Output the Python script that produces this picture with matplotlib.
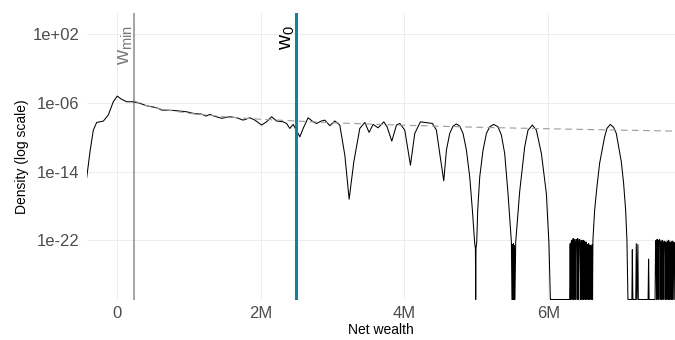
import numpy as np
import matplotlib.pyplot as plt

# wealth in millions, density as log10 (-inf where the estimate is exactly zero)
Z = -np.inf
wealth_m = [-0.417, -0.371, -0.325, -0.278, -0.186, -0.117, -0.047, 0.008, 0.069, 0.139,
            0.231, 0.324, 0.417, 0.556, 0.625, 0.786, 0.972, 1.088, 1.181, 1.240,
            1.296, 1.342, 1.458, 1.574, 1.667, 1.758, 1.851, 1.921, 2.014, 2.083,
            2.153, 2.222, 2.314, 2.361, 2.407, 2.453, 2.546, 2.592, 2.661, 2.731,
            2.778, 2.847, 2.893, 2.963, 3.032, 3.101, 3.171, 3.231, 3.296, 3.379,
            3.449, 3.508, 3.564, 3.633, 3.713, 3.758, 3.824, 3.889, 3.935, 4.004,
            4.083, 4.143, 4.222, 4.306, 4.389, 4.444, 4.490, 4.546, 4.583, 4.629,
            4.675, 4.722, 4.768, 4.814, 4.861, 4.907, 4.944, 4.976, 4.986, 4.990,
            4.994, 5.004, 5.018, 5.046, 5.092, 5.139, 5.185, 5.240, 5.300, 5.347,
            5.393, 5.439, 5.486, 5.494, 5.501, 5.508, 5.515, 5.522, 5.529, 5.535,
            5.546, 5.601, 5.671, 5.717, 5.778, 5.833, 5.903, 5.972, 6.008, 6.028,
            6.296, 6.303, 6.310, 6.317, 6.324, 6.331, 6.338, 6.345, 6.352, 6.358,
            6.365, 6.372, 6.379, 6.386, 6.393, 6.400, 6.407, 6.414, 6.421, 6.428,
            6.435, 6.442, 6.449, 6.456, 6.463, 6.469, 6.476, 6.483, 6.490, 6.497,
            6.504, 6.511, 6.518, 6.525, 6.532, 6.539, 6.546, 6.553, 6.560, 6.567,
            6.574, 6.581, 6.588, 6.595, 6.602, 6.609, 6.614, 6.619, 6.643, 6.675,
            6.712, 6.782, 6.814, 6.861, 6.907, 6.944, 7.014, 7.046, 7.074, 7.092,
            7.106, 7.161, 7.167, 7.174, 7.215, 7.222, 7.231, 7.244, 7.250, 7.386,
            7.393, 7.400, 7.483, 7.490, 7.497, 7.504, 7.511, 7.518, 7.525, 7.532,
            7.539, 7.546, 7.553, 7.560, 7.567, 7.574, 7.581, 7.588, 7.595, 7.602,
            7.609, 7.616, 7.623, 7.630, 7.637, 7.644, 7.651, 7.658, 7.665, 7.672,
            7.679, 7.686, 7.693, 7.700, 7.707, 7.714, 7.721, 7.728, 7.735, 7.742,
            7.749, 7.757]
log_density = [-14.73, -11.70, -9.17, -8.27, -8.12, -7.42, -5.86, -5.20, -5.58, -5.86,
               -5.86, -6.05, -6.33, -6.56, -6.83, -6.87, -7.03, -7.26, -7.30, -7.53,
               -7.33, -7.50, -7.79, -7.61, -7.73, -8.00, -7.73, -8.00, -8.58, -8.20,
               -7.61, -8.10, -8.20, -8.39, -8.97, -8.50, -9.95, -8.97, -7.73, -8.20,
               -8.39, -8.10, -8.00, -8.65, -8.10, -8.58, -12.08, -17.22, -12.86, -8.97,
               -8.27, -9.43, -8.50, -8.90, -8.20, -8.78, -10.45, -8.58, -8.39, -9.17,
               -13.25, -9.55, -8.20, -8.30, -8.39, -9.17, -11.89, -15.08, -11.50, -9.55,
               -8.70, -8.45, -8.70, -9.55, -11.50, -14.62, -18.50, -22.39, -22.93, Z,
               -22.93, -22.30, -18.50, -14.62, -11.50, -9.55, -8.78, -8.50, -8.78, -9.75,
               -11.89, -16.55, -22.20, Z, -22.50, Z, -22.40, Z, -22.60, Z,
               -22.20, -16.35, -11.12, -9.17, -8.58, -9.17, -11.89, -16.55, -22.39, Z,
               Z, -22.4, Z, -22.2, -22.0, Z, -22.1, -21.8, Z, -22.0,
               -21.9, Z, -22.3, -21.9, -22.1, Z, -21.8, -22.0, Z, -22.2,
               -21.9, -22.4, Z, -22.0, -22.1, Z, -22.2, -22.0, Z, -22.3,
               -22.1, Z, -22.4, -22.2, Z, -22.5, -22.6, Z, -22.4, -22.7,
               Z, -22.6, -22.8, Z, -22.9, -22.5, Z, -22.0, -18.50, -15.78,
               -13.05, -9.95, -8.97, -8.50, -8.85, -9.55, -12.86, -15.39, -18.50, -22.0,
               Z, Z, -23.1, Z, Z, -22.4, Z, -22.5, Z, Z,
               -24.2, Z, Z, -22.3, -22.0, Z, -21.9, -22.1, Z, -22.0,
               -22.2, -21.9, Z, -22.1, -22.3, Z, -22.0, -22.2, Z, -22.4,
               -22.1, -22.3, Z, -22.2, -22.5, Z, -22.1, -22.3, Z, -22.0,
               -22.4, Z, -22.2, -22.6, Z, -22.3, -22.1, Z, -22.4, -22.2,
               Z, -22.3]

# fitted Pareto tail
pareto_m = [0.24, 0.4, 0.615, 1.0, 1.5, 2.0, 3.0, 4.0, 5.0, 6.0, 7.0, 7.76]
pareto_log = [-5.76, -6.28, -6.71, -7.20, -7.61, -7.90, -8.31, -8.60, -8.83, -9.01, -9.17, -9.28]

w_min = 0.24
w_0 = 2.49

x_ticks = [0, 2, 4, 6]
x_labels = ['0', '2M', '4M', '6M']
y_ticks = [1e2, 1e-6, 1e-14, 1e-22]
y_labels = ['1e+02', '1e-06', '1e-14', '1e-22']

plt.rcParams['font.family'] = ['Liberation Sans', 'DejaVu Sans']

ymin, ymax = 10 ** -28.91, 10 ** 4.45

fig = plt.figure(figsize=(6.75, 3.4), dpi=100)
ax = fig.add_axes([0.1284, 0.1191, 0.8716, 0.8418])

dens = 10.0 ** np.array(log_density)
dens = np.where(dens > 0, dens, ymin)  # zeros sit on the panel floor

ax.set_yscale('log')
ax.set_xlim(-0.417, 7.76)
ax.set_ylim(ymin, ymax)

ax.axvline(w_min, color='#8c8c8c', lw=1.1, zorder=3)
ax.plot(wealth_m, dens, color='black', lw=0.75, zorder=4)
ax.plot(pareto_m, 10.0 ** np.array(pareto_log), color='#9a9a9a', lw=0.8,
        linestyle=(0, (6, 4)), zorder=5)
ax.axvline(w_0, color='#17809b', lw=2.2, zorder=6)

ax.text(w_min + 0.02, 10 ** 3.09, r'$\mathregular{w_{min}}$', rotation=90, ha='right', va='top',
        color='#7a7a7a', fontsize=15)
ax.text(w_0 + 0.02, 10 ** 3.09, r'$\mathregular{w_{0}}$', rotation=90, ha='right', va='top',
        color='black', fontsize=15)

ax.set_xticks(x_ticks)
ax.set_xticklabels(x_labels)
ax.set_yticks(y_ticks)
ax.set_yticklabels(y_labels)
ax.minorticks_off()
ax.tick_params(length=0, labelsize=12, labelcolor='#4d4d4d', pad=5)
ax.grid(True, color='#ededed', lw=0.7)
ax.set_axisbelow(True)
for s in ax.spines.values():
    s.set_visible(False)

ax.set_xlabel('Net wealth', fontsize=10, labelpad=1)
ax.set_ylabel('Density (log scale)', fontsize=10, labelpad=3)

fig.savefig('out.png', dpi=100)
